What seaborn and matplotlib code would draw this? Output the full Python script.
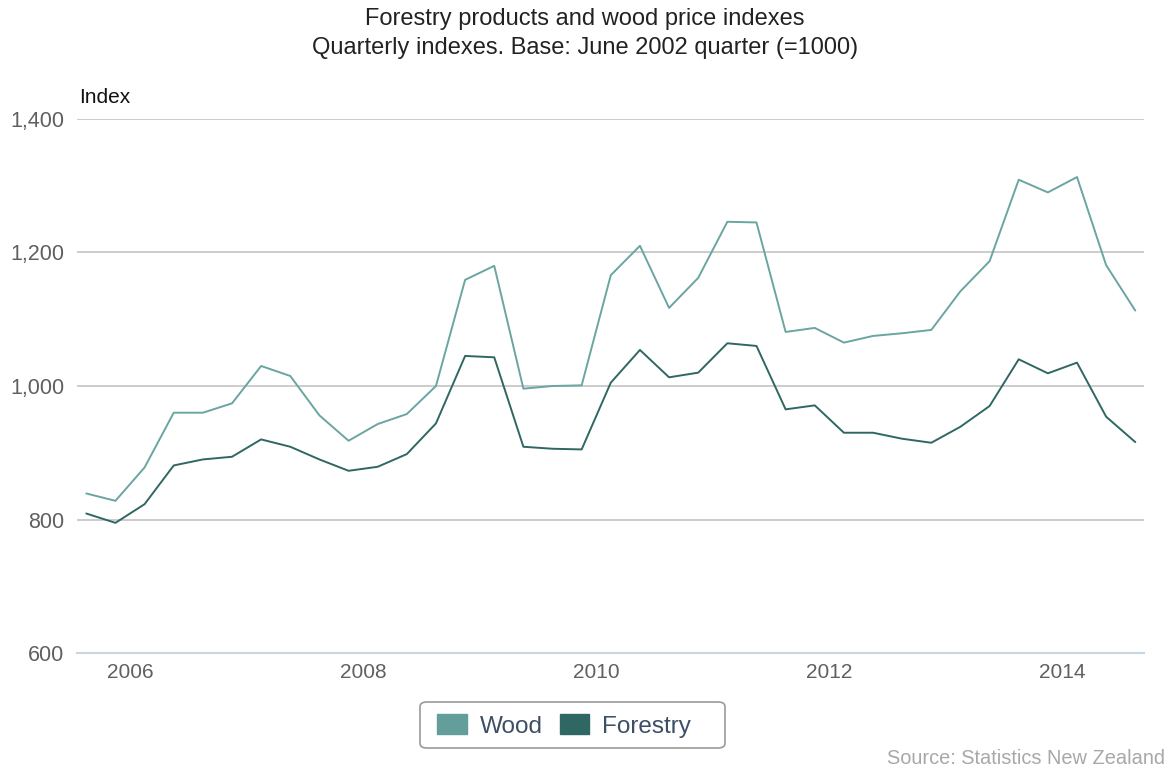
import numpy as np
import pandas as pd
import matplotlib
matplotlib.use("Agg")
import matplotlib.pyplot as plt
from matplotlib.patches import Patch, FancyBboxPatch
import seaborn as sns

# Quarterly data, Sep 2005 quarter to Sep 2014 quarter
quarters = pd.period_range("2005Q3", "2014Q3", freq="Q")
wood = [839, 828, 878, 960, 960, 974, 1030, 1015, 956, 918,
        943, 958, 1000, 1159, 1180, 996, 1000, 1001, 1166, 1210,
        1117, 1162, 1246, 1245, 1081, 1087, 1065, 1075, 1079, 1084,
        1142, 1187, 1309, 1290, 1313, 1181, 1113]
forestry = [809, 795, 823, 881, 890, 894, 920, 909, 890, 873,
            879, 898, 944, 1045, 1043, 909, 906, 905, 1005, 1054,
            1013, 1020, 1064, 1060, 965, 971, 930, 930, 921, 915,
            939, 970, 1040, 1019, 1035, 954, 916]
series_names = ["Wood", "Forestry"]
colors = {"Wood": "#6aa5a1", "Forestry": "#2f6763"}
legend_colors = {"Wood": "#639e9a", "Forestry": "#2f6763"}
yticks = [600, 800, 1000, 1200, 1400]
xticks = [2006, 2008, 2010, 2012, 2014]

# decimal year at middle of quarter
xpos = [q.start_time.year + (q.quarter - 1) * 0.25 + 0.125 for q in quarters]
df = pd.DataFrame({
    "x": xpos * 2,
    "value": wood + forestry,
    "series": ["Wood"] * len(wood) + ["Forestry"] * len(forestry),
})

sns.set_theme(style="white")
plt.rcParams["font.family"] = ["Liberation Sans", "DejaVu Sans"]

W, H = 1170, 771
fig = plt.figure(figsize=(W / 100, H / 100), dpi=100)
ax = fig.add_axes([0.0658, 0.153, 0.9120, 0.6927])

sns.lineplot(data=df, x="x", y="value", hue="series", hue_order=series_names,
             palette=colors, linewidth=1.4, legend=False, ax=ax)

ax.set_xlim(2005.545, 2014.70)
ax.set_ylim(600, 1400)
ax.set_yticks(yticks)
ax.set_yticklabels([f"{v:,}" for v in yticks])
ax.set_xticks(xticks)
ax.set_xticklabels([str(v) for v in xticks])
ax.set_xlabel("")
ax.set_ylabel("")

for v in yticks[1:]:
    ax.axhline(v, color="#c4c4c4", linewidth=1.2, zorder=0)

for s in ["top", "right", "left"]:
    ax.spines[s].set_visible(False)
ax.spines["bottom"].set_color("#c6d4e4")
ax.spines["bottom"].set_linewidth(1.5)

ax.tick_params(axis="y", length=0, labelsize=15.5, labelcolor="#606060", pad=9)
ax.tick_params(axis="x", length=6, width=1, color="#c6d4e4", direction="inout",
               labelsize=15, labelcolor="#606060", pad=4)

fig.text(0.5, 0.975, "Forestry products and wood price indexes",
         ha="center", va="center", fontsize=17, color="#222222")
fig.text(0.5, 0.938, "Quarterly indexes. Base: June 2002 quarter (=1000)",
         ha="center", va="center", fontsize=17, color="#222222")
fig.text(0.068, 0.873, "Index", ha="left", va="center", fontsize=15, color="#111111")
fig.text(0.996, 0.004, "Source: Statistics New Zealand", ha="right", va="bottom",
         fontsize=14.4, color="#a8a8a8")

# legend box (frame drawn separately to mimic the original's padding)
box = FancyBboxPatch((420 / W, 1 - 748 / H), 305 / W, 46 / H,
                     boxstyle="round,pad=0,rounding_size=0.006",
                     transform=fig.transFigure, facecolor="white",
                     edgecolor="#9a9a9a", linewidth=1.2, zorder=1)
fig.patches.append(box)

handles = [Patch(facecolor=legend_colors[n], edgecolor=legend_colors[n], label=n)
           for n in series_names]
leg = fig.legend(handles=handles, loc="center", bbox_to_anchor=(0.482, 0.0585),
                 ncol=2, frameon=False, fontsize=17.5, handlelength=1.23,
                 handleheight=0.9, handletextpad=0.5, columnspacing=0.7,
                 borderpad=0.45, borderaxespad=0)
leg.set_zorder(2)
for t in leg.get_texts():
    t.set_color("#3d4f66")

fig.savefig("out.png", dpi=100)
